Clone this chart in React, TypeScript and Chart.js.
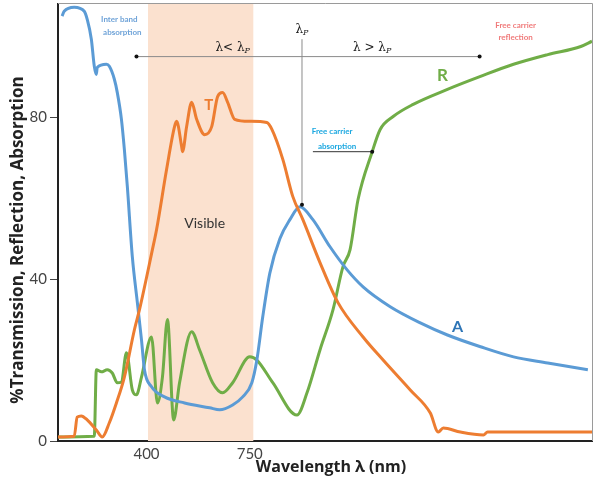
import React, { useEffect, useRef } from "react";
import { Chart, registerables } from "chart.js";

Chart.register(...registerables);

// ---------- data ----------
const xTickValues = [400, 750];
const yTickValues = [0, 40, 80];
const visibleBand = [405, 762];
const lambdaP = 927;

const absorptionX = [114, 121, 155, 189, 199, 213, 223, 230, 233, 264, 274, 291, 301, 315, 325, 335, 352, 369, 383, 393, 417, 461, 529, 614, 648, 692, 726, 757, 774, 794, 818, 852, 886, 920, 964, 1022, 1080, 1134, 1226, 1328, 1420, 1532, 1644, 1760, 1896];
const absorptionY = [105, 106.2, 107.2, 106.2, 104.2, 99.3, 92.6, 90.6, 92.3, 93.1, 92.6, 89.4, 86.1, 79.5, 72, 62.9, 45.5, 34.2, 25, 17.6, 13.4, 10.9, 9.4, 8.2, 7.7, 8.9, 10.9, 14.4, 20, 30.7, 41.5, 50, 54.7, 57.9, 54.7, 48, 42.3, 38.1, 33.2, 29.2, 26.2, 23.3, 20.8, 19.3, 17.6];

const transmissionX = [100, 155, 165, 179, 199, 230, 250, 274, 298, 325, 359, 376, 420, 434, 468, 495, 502, 519, 522, 536, 553, 570, 597, 621, 641, 658, 675, 699, 750, 808, 825, 862, 896, 930, 988, 1049, 1134, 1202, 1294, 1362, 1389, 1406, 1464, 1542, 1556, 1910];
const transmissionY = [1, 1.2, 5.9, 6.2, 5.2, 2.7, 1, 4.5, 9.4, 15.8, 27.5, 32.4, 47.3, 52.2, 67.1, 77.7, 79, 72.8, 71.5, 77.7, 83.7, 79.5, 75.7, 77.7, 85.1, 86.1, 83.7, 79.5, 79, 78.7, 77, 69.6, 60.4, 54.7, 44.1, 34.2, 25.7, 20, 12.6, 6.9, 2.2, 3.2, 2.2, 1.5, 2.2, 2.2];

const reflectionX = [100, 223, 230, 247, 267, 284, 301, 315, 332, 352, 366, 383, 417, 437, 454, 471, 492, 512, 553, 580, 624, 658, 692, 750, 774, 828, 910, 944, 988, 1032, 1066, 1090, 1117, 1165, 1192, 1236, 1304, 1420, 1532, 1644, 1760, 1872, 1910];
const reflectionY = [1, 1.2, 17.6, 17.1, 17.6, 16.8, 14.4, 14.6, 21.8, 12.6, 11.4, 15.8, 25.7, 9.4, 15.8, 30, 5.2, 14.4, 27, 22.5, 14.4, 11.9, 14.4, 20.8, 20, 14.4, 6.4, 11.9, 22.5, 32.4, 43.1, 47.3, 59.7, 71.5, 77, 80.2, 83.2, 86.9, 90.1, 93.1, 95.5, 97.5, 98.8];

const yTitle = "%Transmission, Reflection, Absorption";
const xTitle = "Wavelength λ (nm)";

const BLUE = "#5B9BD5";
const ORANGE = "#ED7D31";
const GREEN = "#70AD47";
const FONT = "Lato, 'Open Sans', sans-serif";
const TITLE_FONT = "'Open Sans', sans-serif";

function pts(xs: number[], ys: number[]) {
  return xs.map((x, i) => ({ x, y: ys[i] }));
}

function drawLambdaText(ctx: CanvasRenderingContext2D, main: string, x: number, y: number, size: number, color: string) {
  ctx.save();
  ctx.fillStyle = color;
  ctx.textBaseline = "alphabetic";
  ctx.textAlign = "left";
  ctx.font = `${size}px 'DejaVu Serif', serif`;
  const w1 = ctx.measureText(main).width;
  ctx.font = `italic ${Math.round(size * 0.7)}px 'DejaVu Serif', serif`;
  const w2 = ctx.measureText("P").width;
  const start = x - (w1 + w2) / 2;
  ctx.font = `${size}px 'DejaVu Serif', serif`;
  ctx.fillText(main, start, y);
  ctx.font = `italic ${Math.round(size * 0.7)}px 'DejaVu Serif', serif`;
  ctx.fillText("P", start + w1, y + 2);
  ctx.restore();
}

function dot(ctx: CanvasRenderingContext2D, x: number, y: number, r = 2) {
  ctx.beginPath();
  ctx.arc(x, y, r, 0, Math.PI * 2);
  ctx.fillStyle = "#111";
  ctx.fill();
}

const annotationPlugin = {
  id: "annot",
  beforeDatasetsDraw(chart: any) {
    const { ctx, chartArea, scales } = chart;
    const x0 = scales.x.getPixelForValue(visibleBand[0]);
    const x1 = scales.x.getPixelForValue(visibleBand[1]);
    ctx.save();
    ctx.fillStyle = "#fbe1cf";
    ctx.fillRect(x0, chartArea.top, x1 - x0, chartArea.bottom - chartArea.top);
    ctx.restore();
  },
  afterDatasetsDraw(chart: any) {
    const { ctx, chartArea, scales } = chart;
    const X = (v: number) => scales.x.getPixelForValue(v);
    const Y = (v: number) => scales.y.getPixelForValue(v);
    ctx.save();

    // border top/right
    ctx.strokeStyle = "#9a9a9a";
    ctx.lineWidth = 1;
    ctx.beginPath();
    ctx.moveTo(chartArea.left, chartArea.top - 0.5);
    ctx.lineTo(chartArea.right + 0.5, chartArea.top - 0.5);
    ctx.lineTo(chartArea.right + 0.5, chartArea.bottom);
    ctx.stroke();

    // y title
    ctx.save();
    ctx.translate(18, 240);
    ctx.rotate(-Math.PI / 2);
    ctx.font = `bold 17px ${TITLE_FONT}`;
    ctx.fillStyle = "#222";
    ctx.textAlign = "center";
    ctx.textBaseline = "middle";
    ctx.fillText(yTitle, 0, 0);
    ctx.restore();

    // x title
    ctx.save();
    ctx.font = `bold 16px ${TITLE_FONT}`;
    ctx.fillStyle = "#222";
    ctx.textAlign = "center";
    ctx.textBaseline = "middle";
    ctx.fillText(xTitle, 331, 467);
    ctx.restore();

    // lambda range arrow
    ctx.strokeStyle = "#8a8a8a";
    ctx.lineWidth = 1;
    ctx.beginPath();
    ctx.moveTo(X(366), Y(95));
    ctx.lineTo(X(1529), Y(95));
    ctx.stroke();
    dot(ctx, X(366), Y(95));
    dot(ctx, X(1529), Y(95));

    // lambda_p vertical
    ctx.beginPath();
    ctx.moveTo(X(lambdaP), Y(99.3));
    ctx.lineTo(X(lambdaP), Y(58.4));
    ctx.stroke();
    dot(ctx, X(lambdaP), Y(58.4));

    drawLambdaText(ctx, "λ< λ", X(692), Y(96.3), 12, "#222");
    drawLambdaText(ctx, "λ > λ", X(1165), Y(96.3), 12, "#222");
    drawLambdaText(ctx, "λ", X(lambdaP), Y(100.8), 12, "#222");

    // free carrier absorption arrow
    ctx.strokeStyle = "#333";
    ctx.beginPath();
    ctx.moveTo(X(964), Y(71.5));
    ctx.lineTo(X(1165), Y(71.5));
    ctx.stroke();
    dot(ctx, X(1165), Y(71.5));

    ctx.textAlign = "center";
    ctx.textBaseline = "middle";

    ctx.font = `bold 8px ${FONT}`;
    ctx.fillStyle = "#1aa7e0";
    ctx.fillText("Free carrier", X(1029), Y(76.5));
    ctx.fillText("absorption", X(1046), Y(72.9));

    ctx.fillStyle = "#6fa3d8";
    ctx.fillText("Inter band", X(308), Y(104.2));
    ctx.fillText("absorption", X(318), Y(101));

    ctx.fillStyle = "#f07a7a";
    ctx.fillText("Free carrier", X(1651), Y(102.7));
    ctx.fillText("reflection", X(1651), Y(99.7));

    ctx.font = `14px ${FONT}`;
    ctx.fillStyle = "#333";
    ctx.fillText("Visible", X(597), Y(53.7));

    ctx.font = `bold 15px ${FONT}`;
    ctx.fillStyle = ORANGE;
    ctx.fillText("T", X(611), Y(83));
    ctx.font = `bold 17px ${FONT}`;
    ctx.fillStyle = GREEN;
    ctx.fillText("R", X(1403), Y(90.3));
    ctx.font = `bold 16px ${FONT}`;
    ctx.fillStyle = "#2e75b6";
    ctx.fillText("A", X(1454), Y(28.2));

    ctx.restore();
  },
};

export default function App() {
  const ref = useRef<HTMLCanvasElement>(null);
  useEffect(() => {
    if (!ref.current) return;
    const common = {
      pointRadius: 0,
      borderWidth: 3,
      fill: false,
      cubicInterpolationMode: "monotone" as const,
    };
    const chart = new Chart(ref.current, {
      type: "line",
      data: {
        datasets: [
          { label: "T", data: pts(transmissionX, transmissionY), borderColor: ORANGE, ...common },
          { label: "A", data: pts(absorptionX, absorptionY), borderColor: BLUE, ...common },
          { label: "R", data: pts(reflectionX, reflectionY), borderColor: GREEN, ...common },
        ],
      },
      options: {
        animation: false,
        responsive: false,
        maintainAspectRatio: false,
        layout: { padding: { top: 4, right: 3, left: 0, bottom: 0 } },
        plugins: { legend: { display: false }, tooltip: { enabled: false } },
        scales: {
          x: {
            type: "linear",
            min: 100,
            max: 1910,
            afterBuildTicks: (s: any) => {
              s.ticks = xTickValues.map((v) => ({ value: v }));
            },
            afterFit: (s: any) => {
              s.height = 42;
              s.paddingLeft = 0;
              s.paddingRight = 0;
            },
            grid: { display: true, drawOnChartArea: false, drawTicks: false },
            border: { display: true, color: "#222", width: 2 },
            ticks: {
              color: "#444",
              font: { size: 15, family: FONT },
              padding: 4,
              autoSkip: false,
              maxRotation: 0,
              callback: (v: any) => String(v),
            },
            title: { display: false },
          },
          y: {
            min: 0,
            max: 108,
            afterBuildTicks: (s: any) => {
              s.ticks = yTickValues.map((v) => ({ value: v }));
            },
            afterFit: (s: any) => {
              s.width = 58;
              s.paddingTop = 0;
              s.paddingBottom = 0;
            },
            grid: { display: true, drawOnChartArea: false, drawTicks: true, tickLength: 8, color: "#444" },
            border: { display: true, color: "#222", width: 2 },
            ticks: {
              color: "#444",
              font: { size: 15, family: FONT },
              padding: 3,
              callback: (v: any) => String(v),
            },
            title: { display: false },
          },
        },
      },
      plugins: [annotationPlugin],
    } as any);
    return () => chart.destroy();
  }, []);

  return (
    <div style={{ position: "fixed", left: 0, top: 0, width: 595, height: 483, background: "#fff" }}>
      <canvas ref={ref} width={595} height={483} style={{ width: 595, height: 483, display: "block" }} />
    </div>
  );
}
